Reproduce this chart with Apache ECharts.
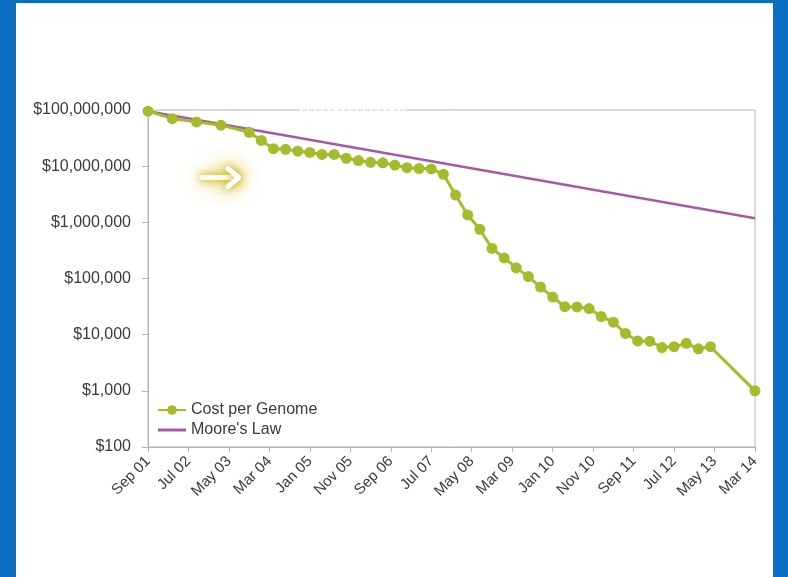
<!DOCTYPE html>
<html>
<head>
<meta charset="utf-8">
<script src="https://cdn.jsdelivr.net/npm/echarts@6/dist/echarts.min.js"></script>
<style>
  html, body { margin: 0; padding: 0; background: #0a6fc3; }
  #sheet { position: absolute; left: 16px; top: 3px; width: 757px; height: 574px; background: #ffffff; }
  #chart { position: absolute; left: 0; top: 0; width: 788px; height: 577px; }
</style>
</head>
<body>
<div id="sheet"></div>
<div id="chart"></div>
<script>
// Monthly timeline of the x axis
const startYear = 2001, startMonth = 8;   // Sep 2001
const endYear = 2014, endMonth = 2;       // Mar 2014
const monthNames = ['Jan','Feb','Mar','Apr','May','Jun','Jul','Aug','Sep','Oct','Nov','Dec'];

// Labelled ticks along the x axis
const tickLabels = ['Sep 01','Jul 02','May 03','Mar 04','Jan 05','Nov 05','Sep 06','Jul 07',
                    'May 08','Mar 09','Jan 10','Nov 10','Sep 11','Jul 12','May 13','Mar 14'];

// Cost per genome (USD)
const costDates = ['Sep 01','Mar 02','Sep 02','Mar 03','Oct 03','Jan 04','Apr 04','Jul 04','Oct 04',
                   'Jan 05','Apr 05','Jul 05','Oct 05','Jan 06','Apr 06','Jul 06','Oct 06',
                   'Jan 07','Apr 07','Jul 07','Oct 07','Jan 08','Apr 08','Jul 08','Oct 08',
                   'Jan 09','Apr 09','Jul 09','Oct 09','Jan 10','Apr 10','Jul 10','Oct 10',
                   'Jan 11','Apr 11','Jul 11','Oct 11','Jan 12','Apr 12','Jul 12','Oct 12',
                   'Jan 13','Apr 13','Mar 14'];
const costValues = [95263072, 70175437, 61448422, 53751684, 40157554, 28780376, 20442576, 19934346, 18519312,
                    17534970, 16159699, 16180224, 13801124, 12585659, 11732535, 11455315, 10474556,
                    9408739, 9047003, 8927342, 7147571, 3063820, 1352982, 752080, 342502,
                    232735, 154714, 108065, 70333, 46774, 31512, 31125, 29092,
                    20963, 16712, 10497, 7743, 7666, 5901, 6100, 7000,
                    5600, 6100, 1000];

// Moore's Law reference line (USD)
const mooreDates = ['Sep 01', 'Mar 14'];
const mooreValues = [95263072, 1180000];

const categories = [];
for (let y = startYear, m = startMonth; y < endYear || (y === endYear && m <= endMonth); ) {
  categories.push(monthNames[m] + ' ' + String(y % 100).padStart(2, '0'));
  m++; if (m > 11) { m = 0; y++; }
}

const pair = (dates, values) => dates.map((d, i) => [d, values[i]]);
const isTick = (idx) => tickLabels.indexOf(categories[idx]) !== -1;

const textColor = '#3a3a3a';
const frameColor = '#b5b5b5';
const green = '#a6bb2c';
const purple = '#a65aa6';
const fontFamily = 'Liberation Sans, Arial, sans-serif';

// white arrow strokes, each given a yellow halo
const arrowStroke = (points, blur, glow) => ({
  type: 'polyline',
  shape: { points },
  style: {
    stroke: '#ffffff', lineWidth: 5, lineCap: 'round', lineJoin: 'round', fill: null,
    shadowBlur: blur, shadowColor: glow
  }
});
const shaft = [[202, 177.5], [236, 177.5]];
const head = [[228, 168.5], [238.5, 177.5], [228, 186.5]];

const chart = echarts.init(document.getElementById('chart'), null, { renderer: 'canvas' });

chart.setOption({
  backgroundColor: 'transparent',
  animation: false,
  textStyle: { fontFamily },
  grid: {
    left: 148, right: 33, top: 110, bottom: 130,
    show: true, borderColor: frameColor, borderWidth: 1, backgroundColor: 'transparent'
  },
  legend: {
    data: [
      { name: 'Cost per Genome' },
      { name: "Moore's Law", icon: 'path://M0,0 L28,0 L28,3 L0,3 Z' }
    ],
    orient: 'vertical',
    left: 152, top: 397,
    itemWidth: 28, itemHeight: 12, itemGap: 4,
    textStyle: { fontSize: 16, color: textColor, fontFamily }
  },
  xAxis: {
    type: 'category',
    data: categories,
    boundaryGap: false,
    axisLine: { lineStyle: { color: frameColor } },
    axisTick: { interval: isTick, length: 5, lineStyle: { color: frameColor } },
    axisLabel: {
      interval: isTick, rotate: 45, margin: 12,
      fontSize: 15, color: textColor
    },
    splitLine: { show: false }
  },
  yAxis: {
    type: 'log',
    logBase: 10,
    min: 100, max: 100000000,
    interval: 1,
    axisLine: { show: true, lineStyle: { color: frameColor } },
    axisTick: { show: true, length: 6, lineStyle: { color: frameColor } },
    axisLabel: {
      margin: 17, fontSize: 16, color: textColor,
      formatter: v => '$' + Math.round(v).toLocaleString('en-US')
    },
    splitLine: { show: false }
  },
  series: [
    {
      name: "Moore's Law",
      type: 'line',
      data: pair(mooreDates, mooreValues),
      symbol: 'none',
      lineStyle: { color: purple, width: 2.5 },
      itemStyle: { color: purple },
      z: 2
    },
    {
      name: 'Cost per Genome',
      type: 'line',
      data: pair(costDates, costValues),
      symbol: 'circle',
      symbolSize: 11,
      showAllSymbol: true,
      lineStyle: { color: green, width: 3 },
      itemStyle: { color: green },
      z: 3
    }
  ],
  graphic: [
    // faint caption remnant over the top frame edge
    { type: 'rect', shape: { x: 300, y: 108.5, width: 106, height: 3 }, style: { fill: '#ffffff' }, z: 50 },
    { type: 'line', shape: { x1: 302, y1: 110, x2: 405, y2: 110 },
      style: { stroke: '#cfcfcf', lineWidth: 1.2, lineDash: [5, 2] }, z: 51 },
    // glowing pointer arrow
    {
      type: 'group', z: 60,
      children: [
        arrowStroke(shaft, 26, 'rgba(220,200,70,0.9)'), arrowStroke(head, 26, 'rgba(220,200,70,0.9)'),
        arrowStroke(shaft, 14, 'rgba(205,180,30,1)'), arrowStroke(head, 14, 'rgba(205,180,30,1)'),
        arrowStroke(shaft, 7, 'rgba(205,180,30,1)'), arrowStroke(head, 7, 'rgba(205,180,30,1)')
      ]
    }
  ]
});
</script>
</body>
</html>
